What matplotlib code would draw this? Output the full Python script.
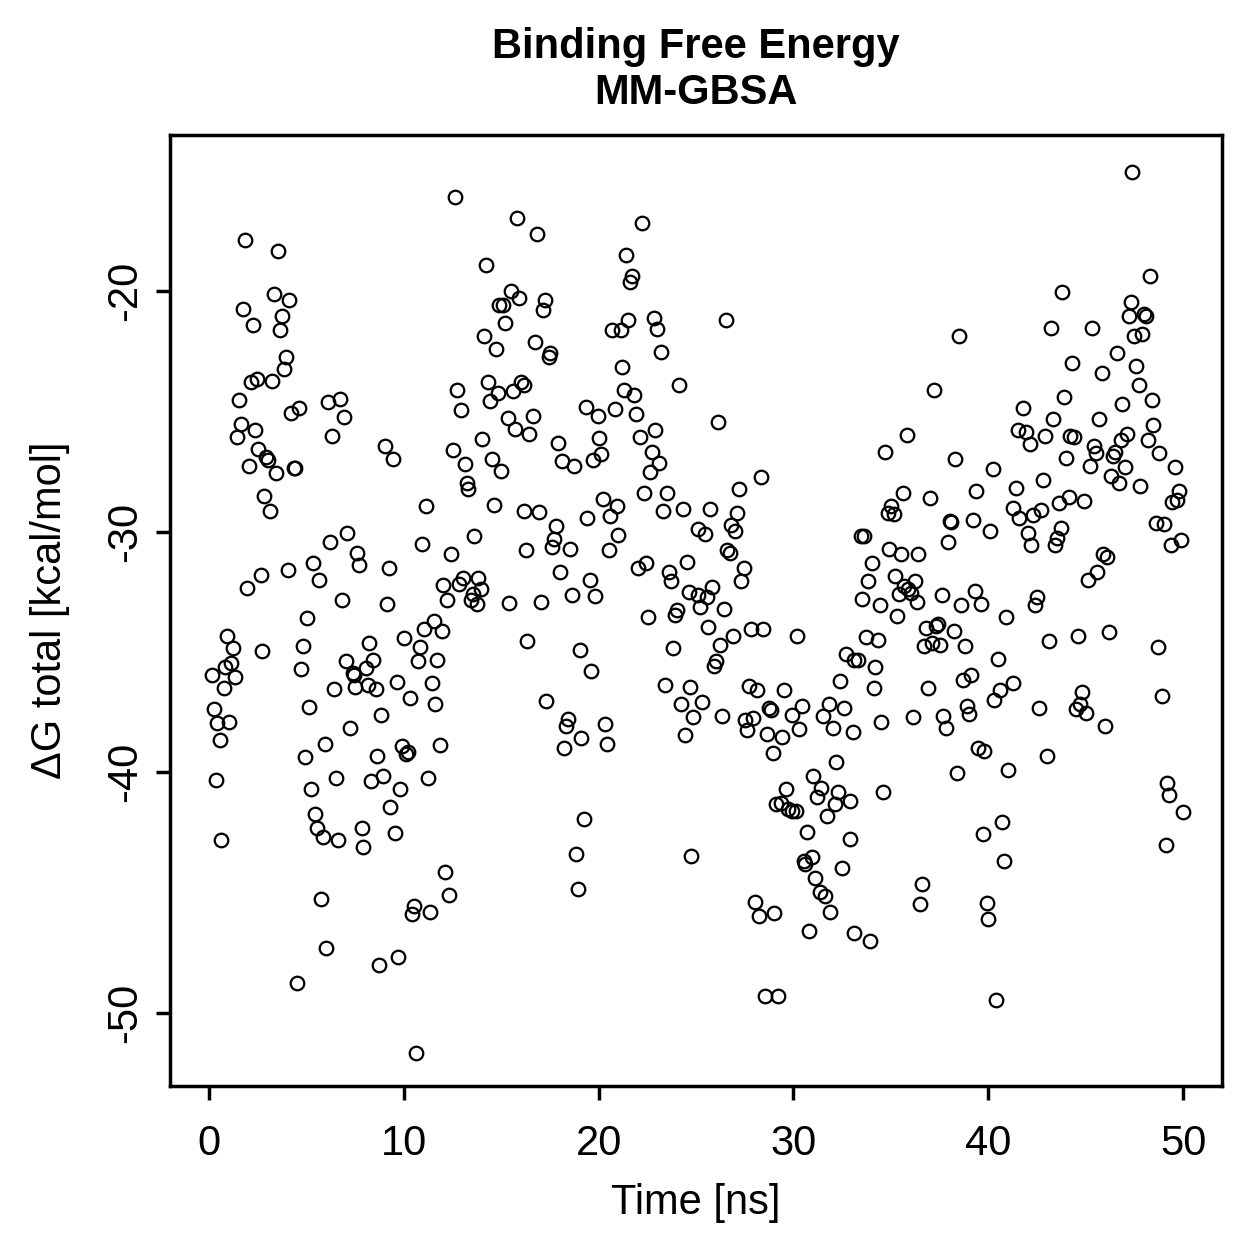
import matplotlib
matplotlib.use("Agg")
import matplotlib.pyplot as plt

plt.rcParams['font.family'] = ['Liberation Sans', 'DejaVu Sans']

# frames (time in ns, dG in kcal/mol)
time_ns = [
    1.83, 3.53, 3.33, 4.13, 1.74, 2.24, 3.74, 3.63, 3.94, 3.84,
    2.46, 2.15, 3.22, 1.54, 4.64, 4.23, 6.11, 6.74, 6.92, 6.33,
    1.65, 2.34, 1.45, 2.52, 2.93, 3.03, 2.05, 3.43, 4.37, 4.44,
    2.83, 3.14, 7.11, 6.23, 7.59, 7.68, 5.34, 4.04, 2.65, 1.94,
    5.63, 6.84, 5.03, 0.94, 1.23, 2.71, 0.82, 1.14, 0.15, 1.35,
    0.75, 0.24, 0.41, 1.04, 0.55, 0.34, 0.63, 4.83, 4.72, 5.12,
    5.94, 4.93, 6.54, 5.22, 5.43, 5.53, 5.83, 6.62, 5.73, 6.02,
    4.52, 7.03, 7.37, 7.44, 7.52, 6.43, 7.23,
    12.61, 15.83, 14.23, 15.52, 15.93, 14.91, 15.08, 15.22, 14.13, 14.72,
    12.73, 14.33, 14.84, 14.43, 15.61, 16.02, 16.16, 12.93, 15.34, 15.73,
    16.43, 9.04, 9.45, 14.02, 12.54, 13.12, 14.52, 15.01, 13.22, 13.32,
    11.12, 14.62, 16.15, 13.61, 10.94, 12.44, 16.29, 9.23, 12.03, 12.83,
    13.05, 13.83, 13.96, 13.56, 13.46, 13.75, 12.23, 15.42, 9.13, 11.54,
    11.04, 11.94, 10.03, 10.83, 8.24, 8.44, 8.04, 10.71, 11.72, 9.64,
    11.43, 8.14, 8.55, 10.32, 11.62, 8.82, 16.33, 9.93, 10.22, 10.12,
    11.84, 8.63, 8.94, 8.33, 11.22, 9.83, 9.31, 7.85, 9.53, 7.93,
    12.13, 12.33, 10.53, 10.43, 11.33, 9.72, 8.74, 10.61,
    22.23, 16.82, 21.43, 21.72, 21.61, 17.23, 17.15, 21.51, 20.71, 21.14,
    22.83, 23.02, 16.72, 17.52, 17.44, 23.22, 21.20, 24.12, 21.31, 21.84,
    19.33, 19.95, 20.83, 21.92, 16.63, 22.91, 22.13, 17.91, 20.01, 20.13,
    19.70, 18.13, 18.73, 22.72, 23.12, 22.62, 22.33, 23.51, 23.32, 24.33,
    20.22, 20.93, 20.61, 19.43, 16.93, 17.83, 17.72, 17.62, 18.53, 21.02,
    20.51, 18.03, 19.54, 18.61, 19.82, 17.03, 22.01, 22.43, 24.55, 23.63,
    23.71, 24.62, 22.52, 24.00, 23.92, 19.02, 19.62, 23.81, 23.40, 24.71,
    24.22, 24.85, 24.41, 17.31, 18.42, 18.32, 19.11, 20.32, 20.44, 18.22,
    19.23, 18.82, 18.92, 24.75,
    26.53, 26.12, 28.34, 27.21, 25.71, 27.11, 26.80, 27.02, 25.11, 25.45,
    26.58, 26.72, 27.45, 27.31, 25.81, 25.08, 25.54, 25.23, 26.42, 25.63,
    26.92, 27.83, 28.44, 30.21, 26.22, 26.01, 25.91, 32.72, 33.13, 27.70,
    28.13, 29.52, 32.40, 25.32, 26.31, 27.50, 27.94, 27.60, 28.73, 28.83,
    29.92, 30.42, 30.31, 28.62, 29.43, 28.93, 31.51, 31.82, 32.62, 32.02,
    33.04, 32.21, 31.01, 31.42, 31.22, 29.62, 32.31, 32.13, 32.93, 31.70,
    29.09, 29.34, 29.72, 29.92, 30.13, 30.71, 32.88, 30.93, 30.52, 30.62,
    32.50, 31.12, 31.34, 31.63, 31.90, 28.03, 28.22, 29.02, 30.81, 33.11,
    28.52, 29.22,
    38.50, 37.22, 35.81, 34.72, 38.30, 40.23, 35.62, 37.00, 39.39, 41.41,
    35.02, 34.84, 35.14, 38.03, 38.09, 39.22, 40.11, 41.25, 41.56, 33.47,
    33.61, 37.91, 34.92, 35.52, 36.42, 34.03, 33.81, 35.21, 36.22, 35.69,
    35.89, 36.03, 35.42, 36.32, 33.52, 34.43, 37.62, 39.31, 38.60, 39.63,
    35.31, 40.91, 36.81, 37.43, 37.31, 38.22, 33.71, 34.33, 36.71, 37.11,
    37.53, 38.81, 33.34, 34.20, 40.52, 39.14, 38.71, 41.25, 40.62, 40.31,
    34.12, 36.92, 38.90, 39.02, 36.12, 34.51, 37.70, 37.82, 39.50, 39.80,
    38.42, 41.01, 34.61, 40.70, 39.72, 40.81, 36.61, 36.51, 39.92, 40.01,
    33.92, 40.42,
    47.39, 48.30, 43.81, 47.31, 47.22, 48.02, 48.11, 47.50, 47.90, 43.21,
    45.31, 46.61, 44.32, 45.82, 47.61, 47.72, 43.91, 41.81, 48.40, 46.88,
    43.30, 45.70, 48.48, 41.51, 41.93, 42.12, 42.92, 44.20, 44.41, 47.10,
    46.79, 48.21, 45.41, 45.51, 46.52, 46.38, 48.79, 44.00, 45.21, 47.02,
    49.61, 46.32, 46.73, 47.80, 42.82, 49.80, 49.69, 49.45, 44.13, 44.90,
    43.62, 42.72, 42.31, 43.72, 43.55, 43.43, 42.02, 42.22, 48.60, 49.01,
    49.92, 49.39, 45.89, 46.10, 45.60, 45.11, 42.51, 42.41, 43.11, 44.59,
    46.22, 48.71, 42.60, 44.80, 44.69, 44.51, 45.00, 46.01, 48.91, 43.01,
    49.20, 49.28, 50.00, 49.10,
]

dg_total = [
    -17.88, -18.35, -20.12, -20.37, -20.76, -21.40, -21.03, -21.62, -22.74, -23.25,
    -23.64, -23.78, -23.73, -24.54, -24.85, -25.07, -24.62, -24.49, -25.25, -26.02,
    -25.54, -25.76, -26.05, -26.56, -26.88, -27.02, -27.26, -27.55, -27.34, -27.37,
    -28.52, -29.13, -30.07, -30.43, -30.90, -31.38, -31.31, -31.60, -31.80, -32.35,
    -32.02, -32.83, -33.58, -34.32, -34.82, -34.94, -35.61, -35.47, -35.95, -36.05,
    -36.48, -37.37, -37.93, -37.92, -38.67, -40.32, -42.81, -34.75, -35.70, -37.30,
    -38.83, -39.35, -40.25, -40.68, -41.73, -42.31, -42.70, -42.81, -45.27, -47.31,
    -48.74, -35.37, -35.88, -35.97, -36.44, -36.52, -38.17,
    -16.08, -16.97, -18.92, -19.99, -20.28, -20.59, -20.59, -21.32, -21.87, -22.41,
    -24.11, -23.79, -24.24, -24.57, -24.17, -23.78, -23.91, -24.94, -25.26, -25.72,
    -25.93, -26.44, -26.99, -26.16, -26.62, -27.20, -26.99, -27.47, -27.99, -28.24,
    -28.93, -28.89, -29.16, -30.18, -30.50, -30.94, -30.76, -31.52, -32.20, -32.19,
    -31.91, -31.94, -32.39, -32.60, -32.85, -33.02, -32.84, -32.96, -33.00, -33.71,
    -34.05, -34.13, -34.43, -34.79, -34.62, -35.32, -35.65, -35.36, -35.33, -36.24,
    -36.29, -36.38, -36.53, -36.92, -37.15, -37.60, -34.54, -38.90, -39.16, -39.24,
    -38.85, -39.31, -40.14, -40.37, -40.22, -40.68, -41.42, -42.30, -42.53, -43.11,
    -44.15, -45.09, -45.55, -45.88, -45.81, -47.67, -48.01, -51.67,
    -17.17, -17.63, -18.49, -19.38, -19.63, -20.39, -20.79, -21.22, -21.63, -21.62,
    -21.13, -21.58, -22.12, -22.58, -22.73, -22.52, -23.16, -23.89, -24.11, -24.32,
    -24.83, -25.18, -24.91, -25.10, -25.18, -25.76, -26.07, -26.30, -26.12, -26.76,
    -27.02, -27.06, -27.27, -26.70, -27.16, -27.53, -28.40, -28.38, -29.15, -29.07,
    -28.64, -28.93, -29.35, -29.43, -29.19, -29.78, -30.29, -30.62, -30.71, -30.12,
    -30.75, -31.67, -32.02, -32.62, -32.67, -32.91, -31.51, -31.29, -31.27, -31.67,
    -32.05, -32.50, -33.56, -33.25, -33.46, -34.90, -35.78, -34.82, -36.36, -36.44,
    -37.16, -37.69, -38.46, -37.02, -37.79, -38.08, -38.56, -37.98, -38.83, -38.99,
    -41.94, -43.40, -44.84, -43.47,
    -21.22, -25.44, -27.73, -28.24, -29.07, -29.24, -29.71, -29.97, -29.88, -30.10,
    -30.76, -30.87, -31.52, -32.04, -32.28, -32.62, -32.70, -33.14, -33.21, -33.97,
    -34.32, -34.04, -34.04, -34.35, -34.71, -35.36, -35.58, -35.07, -35.33, -36.40,
    -36.58, -36.58, -36.19, -37.09, -37.64, -37.84, -37.75, -38.25, -37.31, -37.41,
    -37.62, -37.23, -38.21, -38.42, -38.52, -39.21, -37.67, -37.17, -37.31, -38.16,
    -38.33, -39.58, -40.15, -40.65, -41.01, -40.69, -40.83, -41.30, -41.19, -41.80,
    -41.33, -41.28, -41.53, -41.60, -41.62, -42.46, -42.76, -43.50, -43.67, -43.82,
    -43.96, -44.40, -44.96, -45.12, -45.81, -45.40, -45.97, -45.85, -46.59, -46.68,
    -49.28, -49.28,
    -21.87, -24.11, -25.97, -26.69, -26.97, -27.40, -28.39, -28.59, -28.31, -28.17,
    -28.93, -29.21, -29.28, -29.54, -29.60, -29.53, -29.96, -29.02, -29.43, -30.19,
    -30.19, -30.43, -30.72, -30.93, -30.93, -31.31, -32.05, -31.83, -32.04, -32.26,
    -32.39, -32.56, -32.59, -32.93, -32.80, -33.03, -32.64, -32.48, -33.06, -33.02,
    -33.52, -33.56, -34.01, -33.83, -33.90, -34.13, -34.36, -34.50, -34.75, -34.64,
    -34.69, -34.75, -35.33, -35.62, -35.29, -35.94, -36.17, -36.27, -36.58, -37.00,
    -36.49, -36.49, -37.23, -37.56, -37.71, -37.91, -37.66, -38.17, -38.97, -39.11,
    -40.02, -39.90, -40.81, -42.05, -42.55, -43.67, -44.64, -45.48, -45.44, -46.08,
    -46.99, -49.47,
    -15.06, -19.36, -20.05, -20.46, -21.04, -20.96, -21.03, -21.86, -21.80, -21.54,
    -21.54, -22.56, -23.00, -23.39, -23.12, -23.92, -24.40, -24.87, -24.53, -24.71,
    -25.32, -25.32, -25.58, -25.77, -25.85, -26.34, -26.01, -26.01, -26.05, -25.95,
    -26.19, -26.19, -26.44, -26.72, -26.70, -26.84, -26.74, -26.95, -27.26, -27.32,
    -27.32, -27.70, -27.99, -28.10, -27.85, -28.32, -28.68, -28.78, -28.55, -28.72,
    -28.80, -29.10, -29.32, -29.86, -30.27, -30.57, -30.07, -30.54, -29.64, -29.69,
    -30.34, -30.55, -30.94, -31.04, -31.69, -32.01, -32.70, -33.03, -34.55, -34.35,
    -34.15, -34.79, -37.34, -36.67, -37.17, -37.35, -37.54, -38.07, -36.83, -39.32,
    -40.44, -40.93, -41.65, -43.00,
]

x_ticks = [0, 10, 20, 30, 40, 50]
y_ticks = [-50, -40, -30, -20]

DPI = 250
fig = plt.figure(figsize=(1259 / DPI, 1259 / DPI), dpi=DPI)
ax = fig.add_axes([170 / 1259, 1 - 1086 / 1259, 1052 / 1259, 951 / 1259])

ax.plot(time_ns, dg_total, linestyle='none', marker='o', markersize=3.9,
        markerfacecolor='none', markeredgecolor='black', markeredgewidth=0.65)

ax.set_xlim(-2, 52)
ax.set_ylim(-53.03, -13.52)
ax.set_xticks(x_ticks)
ax.set_yticks(y_ticks)
ax.set_yticklabels([str(t) for t in y_ticks], rotation=90, va='center')

for side in ax.spines.values():
    side.set_linewidth(1.0)
ax.tick_params(axis='both', length=4.0, width=1.0, labelsize=12, color='black')
ax.tick_params(axis='x', pad=7.0)
ax.tick_params(axis='y', pad=3.2)

ax.set_xlabel('Time [ns]', fontsize=12)
ax.xaxis.label.set_va('center')
ax.xaxis.set_label_coords(0.5, -0.123)
ax.set_ylabel('ΔG total [kcal/mol]', fontsize=12)
ax.yaxis.label.set_va('center')
ax.yaxis.set_label_coords(-0.114, 0.5)

fig.text(696 / 1259, 1 - 70 / 1259, 'Binding Free Energy\nMM-GBSA', ha='center',
         va='center', fontsize=12, fontweight='bold', linespacing=1.2)

plt.savefig('out.png', dpi=DPI)
plt.close()
